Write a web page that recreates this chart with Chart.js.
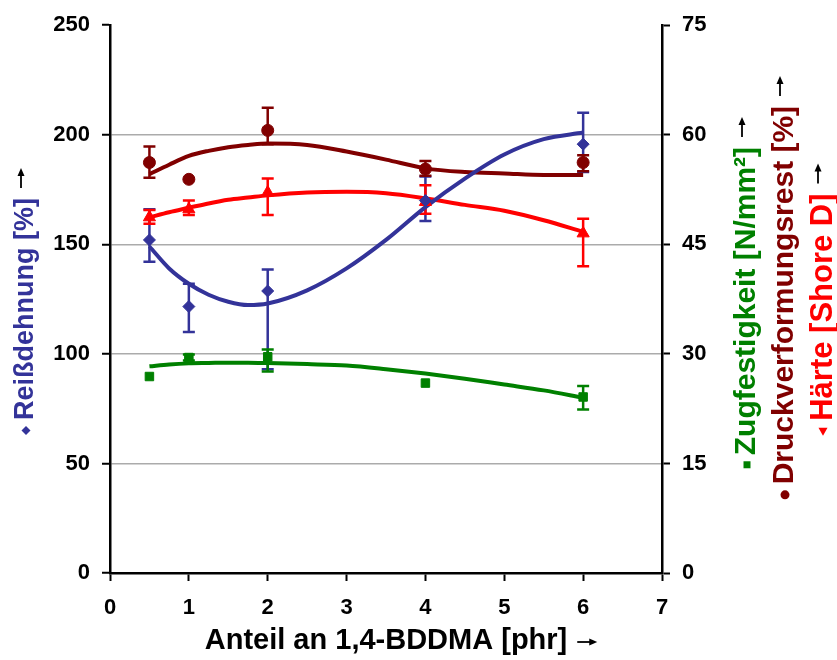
<!DOCTYPE html>
<html><head><meta charset="utf-8">
<script src="https://cdn.jsdelivr.net/npm/chart.js@4.4.1/dist/chart.umd.min.js"></script>
<style>html,body{margin:0;padding:0;background:#fff;}canvas{display:block;}</style>
</head><body>
<canvas id="c" width="837" height="660"></canvas>
<script>
// ---- data ----
const xValues = [0.5, 1, 2, 4, 6];
const xTickLabels = [0, 1, 2, 3, 4, 5, 6, 7];
const leftTickLabels = [0, 50, 100, 150, 200, 250];
const rightTickLabels = [0, 15, 30, 45, 60, 75];

const reissdehnung = [152, 121.6, 128.7, 170, 195.7];
const reissLow = [142, 110, 93, 160.6, 183];
const reissHigh = [166, 132, 138.5, 181, 210];

const zugfestigkeit = [26.9, 29.5, 29.6, 26, 24.1];
const zugLow = [26.9, 29.1, 27.6, 26, 22.4];
const zugHigh = [26.9, 29.9, 30.6, 26, 25.6];

const druckverformungsrest = [56.2, 53.9, 60.6, 55.3, 56.2];
const druckLow = [54.1, 53.9, 58.7, 54.4, 55.0];
const druckHigh = [58.4, 53.9, 63.7, 56.4, 57.2];

const haerte = [48.7, 49.8, 52.1, 50.8, 46.5];
const haerteLow = [47.8, 49.0, 49.0, 49.2, 42.0];
const haerteHigh = [49.7, 51.0, 54.0, 53.1, 48.5];

// trend lines
const trendX = [0.5, 0.75, 1, 1.25, 1.5, 1.75, 2, 2.5, 3, 3.5, 4, 4.5, 5, 5.5, 6];
const reissTrend = [149, 139, 132, 127, 123.8, 122.3, 123, 129, 139, 152, 167, 180, 191, 198, 201];
const zugTrend = [28.3, 28.55, 28.7, 28.75, 28.8, 28.8, 28.75, 28.6, 28.4, 27.9, 27.3, 26.6, 25.8, 25.0, 24.0];
const druckTrend = [54.6, 55.9, 57.1, 57.8, 58.3, 58.6, 58.8, 58.6, 57.7, 56.6, 55.4, 54.9, 54.7, 54.5, 54.5];
const haerteTrend = [48.7, 49.4, 50.0, 50.6, 51.1, 51.4, 51.7, 52.1, 52.2, 52.0, 51.3, 50.4, 49.6, 48.3, 46.7];

// ---- styling ----
const BLUE = '#333399', GREEN = '#008000', DRED = '#800000', RED = '#ff0000';
const FF = '"Liberation Sans", Arial, sans-serif';

const pts = (xs, ys) => xs.map((x, i) => ({x: x, y: ys[i]}));

function pointSet(label, ys, lo, hi, color, style, radius, axis) {
  return {label, data: pts(xValues, ys), errLow: lo, errHigh: hi, yAxisID: axis,
    showLine: false, pointStyle: style, pointRadius: radius, pointHoverRadius: radius,
    backgroundColor: color, borderColor: color, borderWidth: 1};
}
function trendSet(ys, color, axis) {
  return {data: pts(trendX, ys), yAxisID: axis, showLine: true, pointRadius: 0,
    borderColor: color, borderWidth: 4, cubicInterpolationMode: 'monotone', fill: false};
}

const errorBars = {
  id: 'errorBars',
  beforeDatasetsDraw(chart) {
    const ctx = chart.ctx;
    chart.data.datasets.forEach((ds, i) => {
      if (!ds.errLow) return;
      const meta = chart.getDatasetMeta(i);
      const ys = chart.scales[ds.yAxisID];
      ctx.save();
      ctx.strokeStyle = ds.borderColor;
      ctx.lineWidth = 2.5;
      meta.data.forEach((p, j) => {
        const lo = ds.errLow[j], hi = ds.errHigh[j];
        if (lo === hi) return;
        const y1 = ys.getPixelForValue(lo), y2 = ys.getPixelForValue(hi);
        ctx.beginPath();
        ctx.moveTo(p.x, y1); ctx.lineTo(p.x, y2);
        ctx.moveTo(p.x - 6, y1); ctx.lineTo(p.x + 6, y1);
        ctx.moveTo(p.x - 6, y2); ctx.lineTo(p.x + 6, y2);
        ctx.stroke();
      });
      ctx.restore();
    });
  }
};

function drawMarker(ctx, shape, x, y, s, color) {
  ctx.fillStyle = color;
  ctx.beginPath();
  if (shape === 'diamond') { ctx.moveTo(x - s, y); ctx.lineTo(x, y - s); ctx.lineTo(x + s, y); ctx.lineTo(x, y + s); }
  else if (shape === 'square') { ctx.rect(x - s, y - s, 2 * s, 2 * s); }
  else if (shape === 'circle') { ctx.arc(x, y, s, 0, Math.PI * 2); }
  else if (shape === 'triangle') { ctx.moveTo(x - s, y); ctx.lineTo(x + s * 0.8, y - s); ctx.lineTo(x + s * 0.8, y + s); }
  ctx.closePath(); ctx.fill();
}

function drawArrow(ctx, x, y) {
  ctx.save();
  ctx.strokeStyle = '#000'; ctx.fillStyle = '#000'; ctx.lineWidth = 1.8;
  ctx.beginPath(); ctx.moveTo(x, y); ctx.lineTo(x + 14, y); ctx.stroke();
  ctx.beginPath(); ctx.moveTo(x + 20, y); ctx.lineTo(x + 12, y - 3.5); ctx.lineTo(x + 12, y + 3.5); ctx.closePath(); ctx.fill();
  ctx.restore();
}

function titleWithMarker(ctx, cx, cy, rotate, text, size, color, shape, mSize) {
  ctx.save();
  ctx.translate(cx, cy);
  if (rotate) ctx.rotate(-Math.PI / 2);
  ctx.font = 'bold ' + size + 'px ' + FF;
  const w = ctx.measureText(text).width;
  ctx.textBaseline = 'middle';
  ctx.textAlign = 'left';
  ctx.fillStyle = color;
  ctx.fillText(text, -w / 2, 1);
  if (shape) drawMarker(ctx, shape, -w / 2 - 6 - mSize, 1, mSize, color);
  drawArrow(ctx, w / 2 + 10, rotate ? -4 : 2);
  ctx.restore();
}

const titles = {
  id: 'titles',
  afterDraw(chart) {
    const ctx = chart.ctx, a = chart.chartArea;
    const cy = (a.top + a.bottom) / 2;
    titleWithMarker(ctx, (a.left + a.right) / 2, 640, false, 'Anteil an 1,4-BDDMA [phr]', 29, '#000', null, 0);
    titleWithMarker(ctx, 25, cy + 10, true, 'Reißdehnung [%]', 27, BLUE, 'diamond', 4.5);
    titleWithMarker(ctx, 746, cy + 2, true, 'Zugfestigkeit [N/mm²]', 30, GREEN, 'square', 3.5);
    titleWithMarker(ctx, 784, cy - 4, true, 'Druckverformungsrest [%]', 30, DRED, 'circle', 4.5);
    titleWithMarker(ctx, 822, cy + 8, true, 'Härte [Shore D]', 31, RED, 'triangle', 4.5);
  }
};

const tickFont = {family: FF, size: 22, weight: 'bold'};

new Chart(document.getElementById('c'), {
  type: 'scatter',
  data: {
    datasets: [
      pointSet('Reißdehnung', reissdehnung, reissLow, reissHigh, BLUE, 'rectRot', 6, 'y'),
      pointSet('Druckverformungsrest', druckverformungsrest, druckLow, druckHigh, DRED, 'circle', 6, 'y2'),
      pointSet('Härte', haerte, haerteLow, haerteHigh, RED, 'triangle', 7, 'y2'),
      pointSet('Zugfestigkeit', zugfestigkeit, zugLow, zugHigh, GREEN, 'rect', 6, 'y2'),
      trendSet(reissTrend, BLUE, 'y'),
      trendSet(druckTrend, DRED, 'y2'),
      trendSet(haerteTrend, RED, 'y2'),
      trendSet(zugTrend, GREEN, 'y2')
    ]
  },
  options: {
    responsive: false,
    animation: false,
    events: [],
    layout: {padding: {top: 22, left: 0, right: 0, bottom: 0}},
    plugins: {legend: {display: false}, tooltip: {enabled: false}, title: {display: false}},
    scales: {
      x: {
        type: 'linear', min: 0, max: 7,
        afterBuildTicks: s => { s.ticks = xTickLabels.map(v => ({value: v})); },
        afterFit: s => { s.height = 87; },
        ticks: {font: tickFont, color: '#000', padding: 14, maxRotation: 0, autoSkip: false},
        grid: {drawOnChartArea: false, drawTicks: true, tickLength: 8, tickColor: '#000', tickWidth: 2},
        border: {color: '#000', width: 2.5}
      },
      y: {
        position: 'left', min: 0, max: 250,
        afterBuildTicks: s => { s.ticks = leftTickLabels.map(v => ({value: v})); },
        afterFit: s => { s.width = 110; },
        ticks: {font: tickFont, color: '#000', padding: 12, autoSkip: false},
        grid: {
          color: c => (c.tick && (c.tick.value === 0 || c.tick.value === 250)) ? 'rgba(0,0,0,0)' : '#ababab',
          lineWidth: 1.5, tickLength: 8, tickColor: '#000', tickWidth: 2
        },
        border: {color: '#000', width: 2.5}
      },
      y2: {
        position: 'right', min: 0, max: 75,
        afterBuildTicks: s => { s.ticks = rightTickLabels.map(v => ({value: v})); },
        afterFit: s => { s.width = 175; },
        ticks: {font: tickFont, color: '#000', padding: 12, autoSkip: false},
        grid: {drawOnChartArea: false, tickLength: 8, tickColor: '#000', tickWidth: 2},
        border: {color: '#000', width: 2.5}
      }
    }
  },
  plugins: [errorBars, titles]
});
</script>
</body></html>
